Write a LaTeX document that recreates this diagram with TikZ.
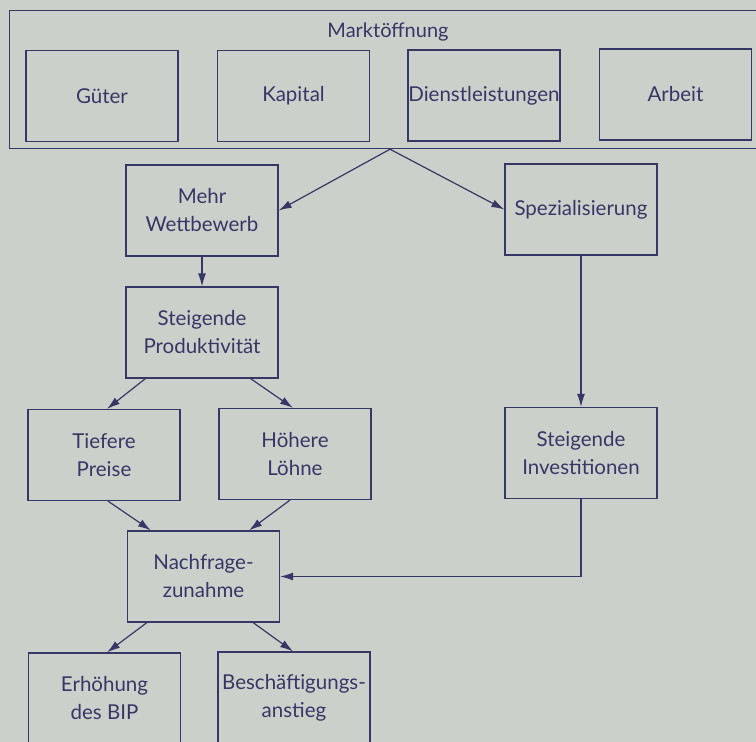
\documentclass[tikz,border=0pt]{standalone}
\usepackage{fontspec}
\setmainfont{Lato}
\usetikzlibrary{arrows.meta,calc}
\definecolor{bg}{RGB}{204,208,203}
\definecolor{ink}{RGB}{55,55,102}
\begin{document}
\begin{tikzpicture}[x=1pt,y=-1pt,
  box/.style={draw=ink, line width=1.2pt, minimum width=152pt, minimum height=91pt,
    inner sep=0pt, text=ink, font=\fontsize{20.5}{28}\selectfont, align=center},
  outerbox/.style={draw=ink, line width=1.2pt, inner sep=0pt},
  title/.style={text=ink, font=\fontsize{20}{22}\selectfont, inner sep=0pt},
  arr/.style={draw=ink, line width=1.2pt, -{Latex[length=13pt,width=8pt]}},
  conn/.style={draw=ink, line width=1.2pt}]
\fill[bg] (0,0) rectangle (756,742);
\useasboundingbox (0,0) rectangle (756,742);
\clip (0,0) rectangle (756,742);
% top group
\node[outerbox, anchor=north west, minimum width=752pt, minimum height=138pt] (markt) at (9,10) {};
\node[title] (mtitle) at (388,32) {Marktöffnung};
\node[box] (gueter) at (102,96) {Güter};
\node[box] (kapital) at (293.5,96) {Kapital};
\node[box] (dienst) at (484,95.5) {Dienstleistungen};
\node[box] (arbeit) at (675.5,94.5) {Arbeit};
\coordinate (apex) at ($(markt.south west)+(381,0)$);
% second row
\node[box] (wett) at (202,210.5) {Mehr\\Wettbewerb};
\node[box] (spez) at (581,209.5) {Spezialisierung};
\node[box] (prod) at (202,332.5) {Steigende\\Produktivität};
\node[box] (tief) at (104,455) {Tiefere\\Preise};
\node[box] (hoeh) at (295,454) {Höhere\\Löhne};
\node[box] (inv) at (581,453) {Steigende\\Investitionen};
\node[box] (nach) at (203.5,576.5) {Nachfrage-\\zunahme};
\node[box] (erh) at (104.5,698.5) {Erhöhung\\des BIP};
\node[box] (besch) at (294,697.5) {Beschäftigungs-\\anstieg};
% connectors
\draw[arr] (apex) -- (wett.east);
\draw[arr] (apex) -- (spez.west);
\draw[arr] (wett.south) -- (prod.north);
\draw[arr] ([xshift=20pt]prod.south west) -- ([xshift=3pt]tief.north);
\draw[arr] ([xshift=-28pt]prod.south east) -- ([xshift=-2pt]hoeh.north);
\draw[arr] ([xshift=4pt]tief.south) -- ([xshift=24pt]nach.north west);
\draw[arr] ([xshift=-5pt]hoeh.south) -- ([xshift=-31pt]nach.north east);
\draw[arr] ([xshift=20pt]nach.south west) -- ([xshift=2.5pt]erh.north);
\draw[arr] ([xshift=-27pt]nach.south east) -- ([xshift=-1pt]besch.north);
\draw[arr] (spez.south) -- (inv.north);
\draw[arr] (inv.south) |- (nach.east);
\end{tikzpicture}
\end{document}
